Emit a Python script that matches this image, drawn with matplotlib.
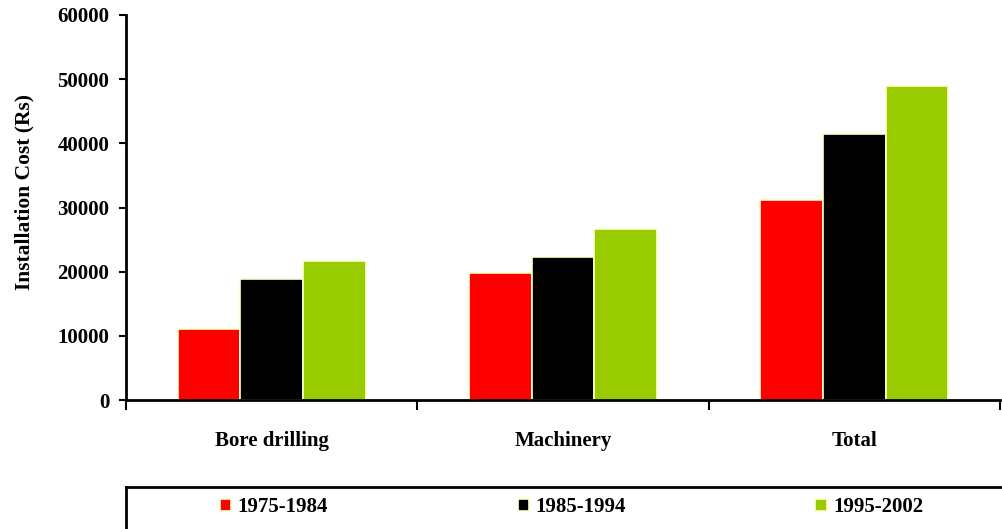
import numpy as np
import matplotlib
matplotlib.use("Agg")
import matplotlib.pyplot as plt

categories = ["Bore drilling", "Machinery", "Total"]
periods = ["1975-1984", "1985-1994", "1995-2002"]
cost_1975 = [11100, 19800, 31200]
cost_1985 = [18900, 22300, 41400]
cost_1995 = [21700, 26700, 48900]
colors = ["#ff0000", "#000000", "#99cc00"]

plt.rcParams["font.family"] = ["Liberation Serif", "DejaVu Serif"]
plt.rcParams["font.weight"] = "bold"

W, H = 1002, 529
fig = plt.figure(figsize=(W / 100, H / 100), dpi=100)
ax = fig.add_axes([126 / W, (H - 400) / H, (1000 - 126) / W, 385 / H])

x = np.arange(len(categories))
width = 0.215
series = [cost_1975, cost_1985, cost_1995]
bars = []
for i, vals in enumerate(series):
    b = ax.bar(x + (i - 1) * width, vals, width, color=colors[i],
               edgecolor="#ffffcc", linewidth=1.2, label=periods[i])
    bars.append(b)

ax.set_xlim(-0.5, 2.5)
ax.set_ylim(0, 60000)
ax.set_yticks(np.arange(0, 60001, 10000))
ax.set_yticklabels([str(v) for v in range(0, 60001, 10000)], fontsize=15, fontweight="bold")
ax.set_xticks([-0.5, 0.5, 1.5, 2.5])
ax.set_xticklabels([])
ax.set_xticks(x, minor=True)
ax.set_xticklabels(categories, minor=True, fontsize=15, fontweight="bold")
ax.tick_params(axis="x", which="major", direction="out", length=7, width=1.5)
ax.tick_params(axis="x", which="minor", length=0, pad=22)
ax.tick_params(axis="y", direction="out", length=5, width=1.5, pad=7)
for s in ["top", "right"]:
    ax.spines[s].set_visible(False)
for s in ["left", "bottom"]:
    ax.spines[s].set_linewidth(2)
ax.set_ylabel("Installation Cost (Rs)", fontsize=15.5, fontweight="bold")
ax.yaxis.set_label_coords(-0.105, 0.54)

# legend box at the bottom, running off the right edge
lax = fig.add_axes([126 / W, 0, (W - 126 + 10) / W, 42 / H])
lax.set_xticks([])
lax.set_yticks([])
for s in ["bottom", "right"]:
    lax.spines[s].set_visible(False)
for s in ["top", "left"]:
    lax.spines[s].set_linewidth(2)
lax.legend(handles=[b[0] for b in bars], labels=periods, loc="center left",
           bbox_to_anchor=(0.106, 0.52), ncol=3, frameon=False,
           borderaxespad=0, borderpad=0,
           handlelength=0.55, handleheight=0.55, handletextpad=0.3,
           columnspacing=9.1, prop={"weight": "bold", "size": 15})

fig.savefig("out.png", dpi=100)
